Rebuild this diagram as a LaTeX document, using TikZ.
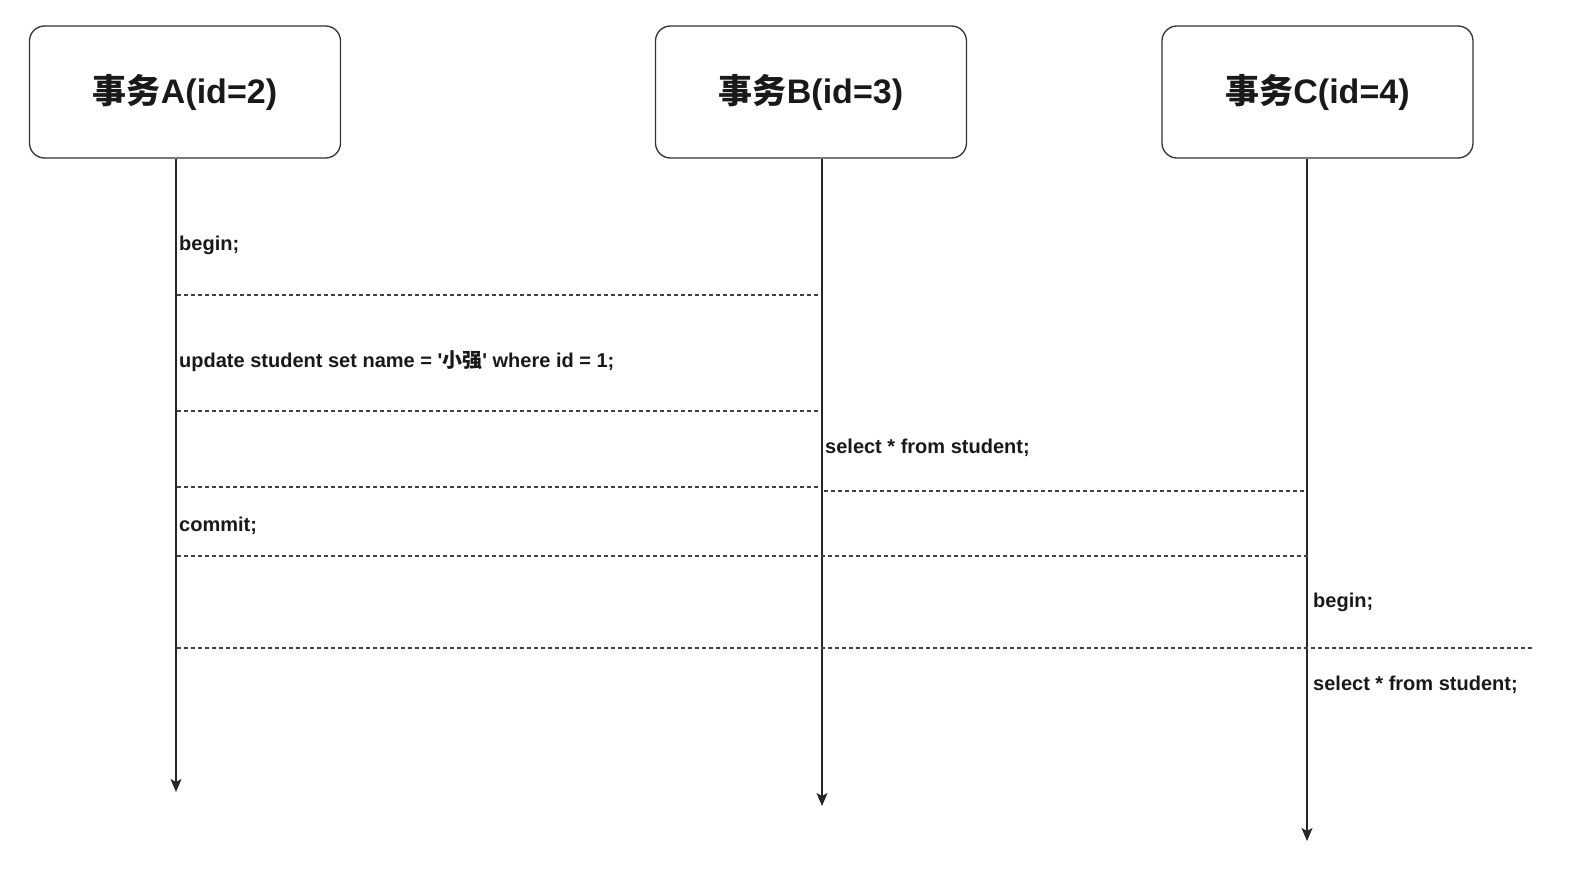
\documentclass[tikz,border=0pt]{standalone}
\usepackage{fontspec}
\setmainfont{Liberation Sans}
\newfontfamily\cjk{Noto Sans CJK SC}
\usetikzlibrary{arrows.meta}

\begin{document}
\begin{tikzpicture}[x=1pt, y=-1pt,
  txbox/.style={draw=black!80, line width=1.3pt, rounded corners=15pt, minimum width=311pt, minimum height=132pt, font=\fontsize{34}{40}\selectfont\bfseries, text=black!90},
  lifeline/.style={-{Stealth[length=13pt, width=11pt, inset=3pt]}, line width=1.3pt, black!85},
  sep/.style={line width=1.3pt, black!75, dash pattern=on 4pt off 3pt},
  sql/.style={anchor=base west, inner sep=0pt, font=\fontsize{20}{24}\selectfont\bfseries, text=black!90}]
\useasboundingbox (0,0) rectangle (1588,891);

\node [txbox] (txA) at (185, 92) {{\cjk 事务}A(id=2)};
\node [txbox] (txB) at (811, 92) {{\cjk 事务}B(id=3)};
\node [txbox] (txC) at (1317.5, 92) {{\cjk 事务}C(id=4)};

\coordinate (endA) at (176, 792);
\coordinate (endB) at (822, 806);
\coordinate (endC) at (1307, 841);

\draw [lifeline] (txA.south -| endA) -- (endA);
\draw [lifeline] (txB.south -| endB) -- (endB);
\draw [lifeline] (txC.south -| endC) -- (endC);

\draw [sep] (177, 295) -- (820, 295);
\draw [sep] (177, 411) -- (820, 411);
\draw [sep] (177, 487) -- (820, 487);
\draw [sep] (824, 491) -- (1307, 491);
\draw [sep] (177, 556) -- (1310, 556);
\draw [sep] (177, 648) -- (1533, 648);

\node [sql] (beginA) at (179, 250) {begin;};
\node [sql] (updateA) at (179, 367.5) {update student set name = \textquotesingle{\cjk 小强}\textquotesingle{} where id = 1;};
\node [sql] (selectB) at (825, 453.5) {select * from student;};
\node [sql] (commitA) at (179, 531.5) {commit;};
\node [sql] (beginC) at (1313, 607.5) {begin;};
\node [sql] (selectC) at (1313, 690) {select * from student;};

\end{tikzpicture}
\end{document}
